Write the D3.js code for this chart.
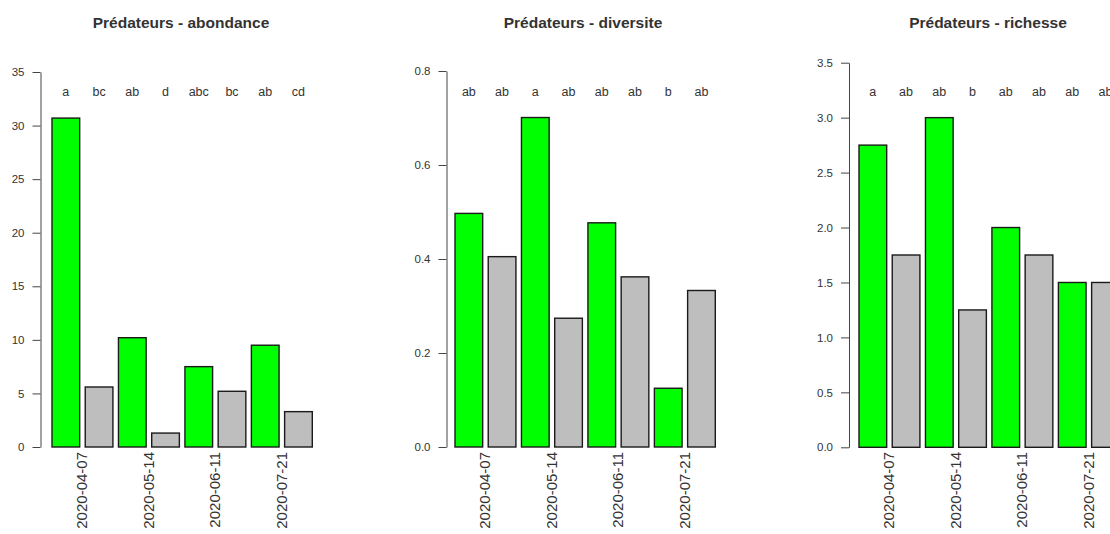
<!DOCTYPE html>
<html>
<head>
<meta charset="utf-8">
<script src="https://cdn.jsdelivr.net/npm/d3@7"></script>
<style>
  body { margin: 0; background: #fff; }
  text { font-family: "Liberation Sans", Arial, sans-serif; fill: #333; }
</style>
</head>
<body>
<script>
// Data
let dates = ['2020-04-07', '2020-05-14', '2020-06-11', '2020-07-21'];
let treatments = ['A', 'B'];  // green / gray bar of each date

let abondance = [30.7, 5.6, 10.2, 1.3, 7.5, 5.2, 9.5, 3.3];
let diversite = [0.497, 0.405, 0.701, 0.274, 0.477, 0.362, 0.125, 0.333];
let richesse  = [2.75, 1.75, 3.0, 1.25, 2.0, 1.75, 1.5, 1.5];

let lettersAbondance = ['a', 'bc', 'ab', 'd', 'abc', 'bc', 'ab', 'cd'];
let lettersDiversite = ['ab', 'ab', 'a', 'ab', 'ab', 'ab', 'b', 'ab'];
let lettersRichesse  = ['a', 'ab', 'ab', 'b', 'ab', 'ab', 'ab', 'ab'];

let ticksAbondance = [0, 5, 10, 15, 20, 25, 30, 35];
let ticksDiversite = [0, 0.2, 0.4, 0.6, 0.8];
let ticksRichesse  = [0, 0.5, 1.0, 1.5, 2.0, 2.5, 3.0, 3.5];

let titles = ['Prédateurs - abondance', 'Prédateurs - diversite', 'Prédateurs - richesse'];

// Layout of the three panels
let width = 1110, height = 534;
let barColors = ['#00ff00', '#bebebe'];

let panels = [
  { title: titles[0], values: abondance, letters: lettersAbondance, ticks: ticksAbondance,
    fmt: d3.format('d'), axisX: 40.5, barRange: [52, 312.3], yRange: [447, 72], titleX: 181 },
  { title: titles[1], values: diversite, letters: lettersDiversite, ticks: ticksDiversite,
    fmt: d3.format('.1f'), axisX: 446.5, barRange: [455, 715.3], yRange: [447, 71], titleX: 583 },
  { title: titles[2], values: richesse, letters: lettersRichesse, ticks: ticksRichesse,
    fmt: d3.format('.1f'), axisX: 849, barRange: [859, 1119.3], yRange: [447.3, 62.7], titleX: 988 }
];

let svg = d3.select('body')
  .append('svg')
  .attr('width', width)
  .attr('height', height);

// one entry per bar: date x treatment
let bars = dates.flatMap(d => treatments.map(t => ({ date: d, treat: t })));

panels.forEach(p => {
  let g = svg.append('g');

  let xScale = d3.scaleBand()
    .domain(d3.range(bars.length))
    .range(p.barRange)
    .paddingInner(0.167)
    .paddingOuter(0);

  let yScale = d3.scaleLinear()
    .domain([0, d3.max(p.ticks)])
    .range(p.yRange);

  // y axis
  let yAxis = g.append('g')
    .attr('transform', `translate(${p.axisX},0)`)
    .call(d3.axisLeft(yScale).tickValues(p.ticks).tickFormat(p.fmt)
      .tickSize(8).tickPadding(8).tickSizeOuter(0));
  yAxis.select('.domain').attr('stroke', '#444');
  yAxis.selectAll('.tick line').attr('stroke', '#444');
  yAxis.selectAll('.tick text')
    .style('font-size', '11.5px')
    .style('font-family', '"Liberation Sans", Arial, sans-serif')
    .attr('fill', '#444');

  // bars
  g.selectAll('rect')
    .data(p.values)
    .enter()
    .append('rect')
    .attr('x', (d, i) => xScale(i))
    .attr('y', d => yScale(d))
    .attr('width', xScale.bandwidth())
    .attr('height', d => yScale(0) - yScale(d))
    .attr('fill', (d, i) => barColors[i % 2])
    .attr('stroke', '#1a1a1a')
    .attr('stroke-width', 1.4);

  // significance letters
  g.selectAll('text.letter')
    .data(p.letters)
    .enter()
    .append('text')
    .attr('class', 'letter')
    .attr('x', (d, i) => xScale(i) + xScale.bandwidth() / 2)
    .attr('y', 96)
    .attr('text-anchor', 'middle')
    .style('font-size', '12.5px')
    .text(d => d);

  // date labels, centred under each pair of bars
  g.selectAll('text.date')
    .data(dates)
    .enter()
    .append('text')
    .attr('class', 'date')
    .attr('transform', (d, i) => {
      let cx = (xScale(2 * i) + xScale(2 * i + 1) + xScale.bandwidth()) / 2;
      return `translate(${cx + 5},452) rotate(-90)`;
    })
    .attr('text-anchor', 'end')
    .style('font-size', '15px')
    .attr('fill', '#444')
    .text(d => d);

  // title
  g.append('text')
    .attr('x', p.titleX)
    .attr('y', 28)
    .attr('text-anchor', 'middle')
    .style('font-size', '15.5px')
    .style('font-weight', 'bold')
    .text(p.title);
});
</script>
</body>
</html>
